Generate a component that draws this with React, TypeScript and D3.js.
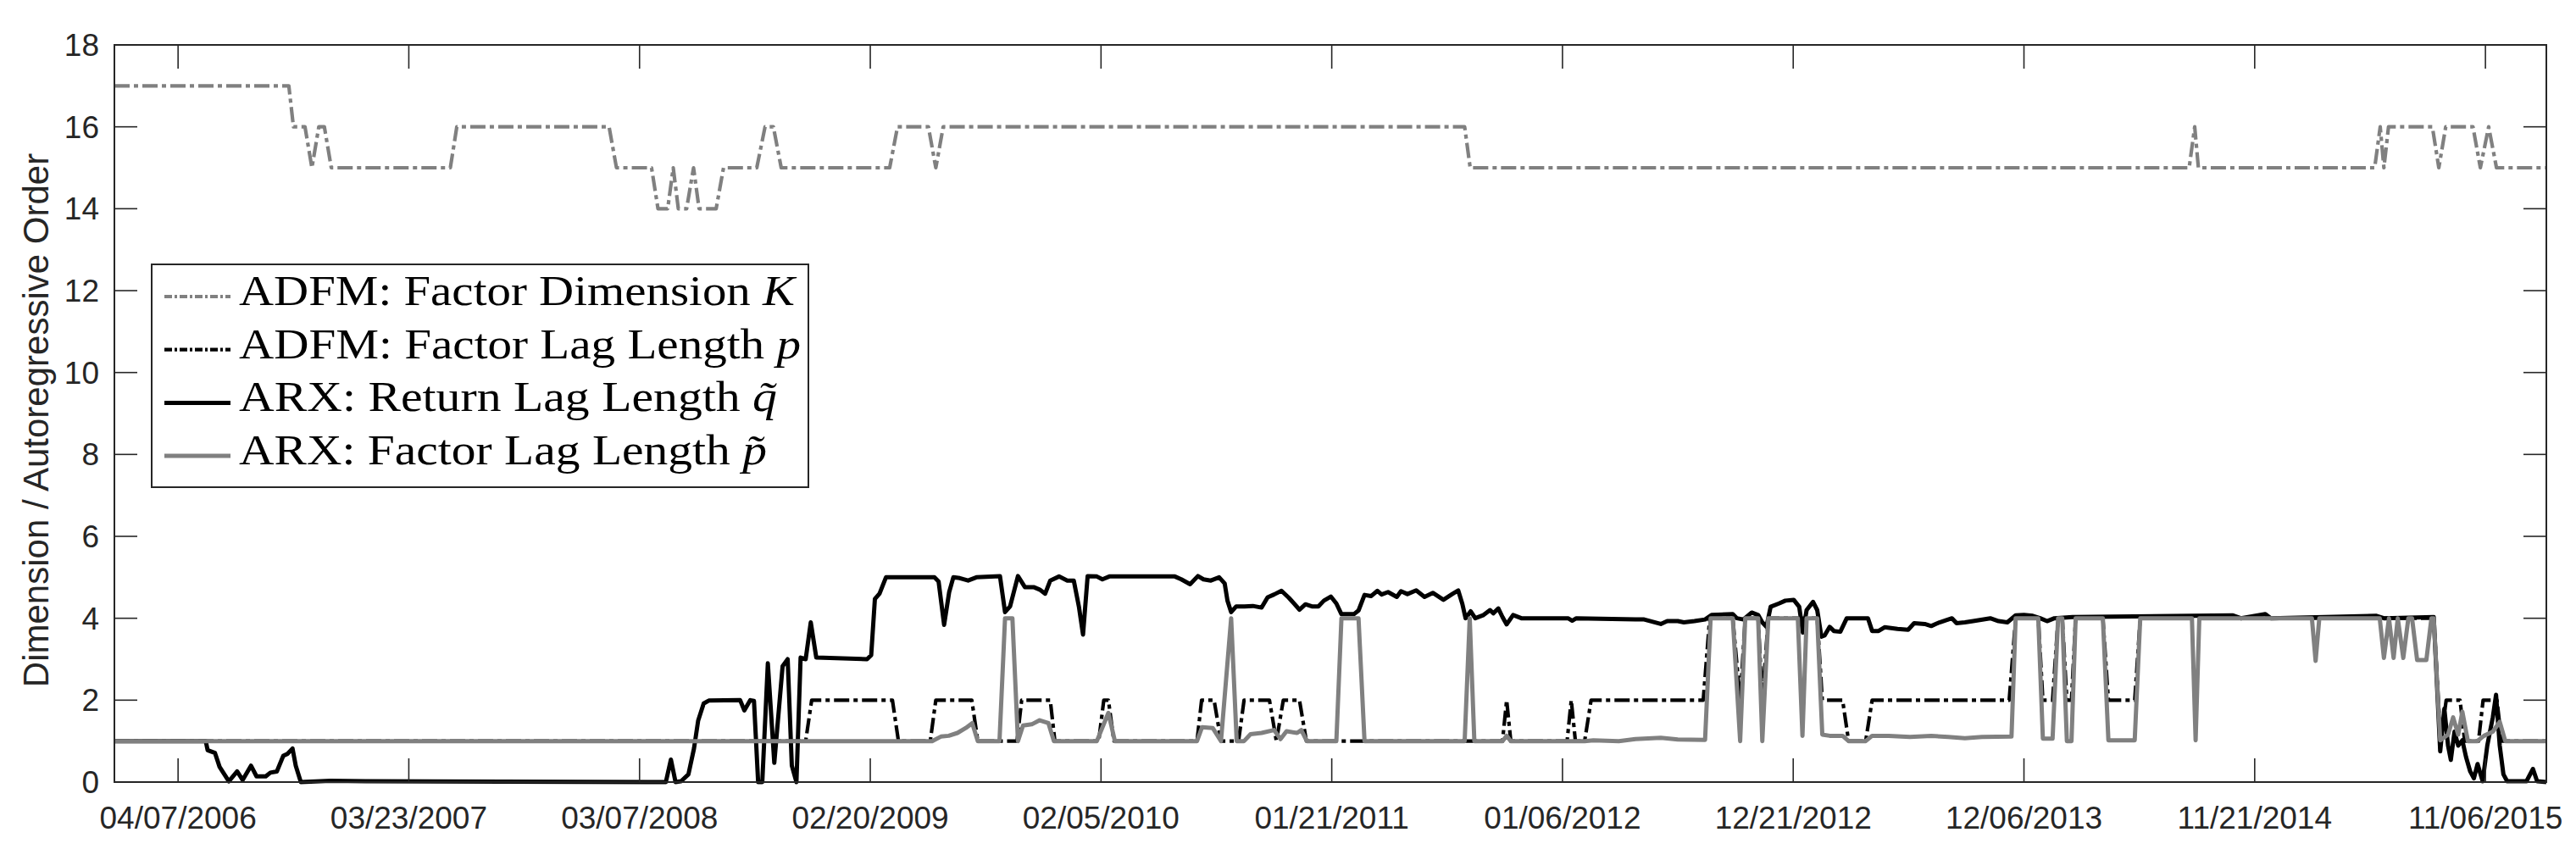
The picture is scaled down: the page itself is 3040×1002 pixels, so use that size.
import { useMemo } from 'react';
import * as d3 from 'd3';

// weeks counted from 04/07/2006 (week 0); x axis ticks every 50 weeks
const xTickWeeks = [0, 50, 100, 150, 200, 250, 300, 350, 400, 450, 500];
const xTickLabels = [
  '04/07/2006', '03/23/2007', '03/07/2008', '02/20/2009', '02/05/2010', '01/21/2011',
  '01/06/2012', '12/21/2012', '12/06/2013', '11/21/2014', '11/06/2015',
];
const yTicks = [0, 2, 4, 6, 8, 10, 12, 14, 16, 18];
const weekRange: [number, number] = [-13.8, 513.2];

// ADFM: factor dimension K  [week, value]
const factorDimK: [number, number][] = [
  [-13.8, 17], [24, 17], [25, 16], [27.5, 16], [29, 15], [30.5, 16], [31.7, 16], [33.2, 15],
  [59, 15], [60.4, 16], [93.4, 16], [95, 15], [102.6, 15], [104, 14], [106.1, 14], [107.3, 15],
  [108.4, 14], [110.2, 14], [111.7, 15], [112.9, 14], [116.6, 14], [118.2, 15], [125.4, 15],
  [127.2, 16], [129, 16], [130.7, 15], [154.2, 15], [155.9, 16], [162.6, 16], [164.2, 15],
  [165.8, 16], [278.8, 16], [280, 15], [435.8, 15], [437, 16], [437.8, 15], [476, 15],
  [477.2, 16], [478, 15], [479, 16], [488.5, 16], [489.9, 15], [491.4, 16], [497.3, 16],
  [498.9, 15], [500.7, 16], [502.4, 15], [513.2, 15],
];

// ADFM: factor lag length p
const factorLagP: [number, number][] = [
  [-13.8, 1], [136, 1], [137.3, 2], [154.8, 2], [156.1, 1], [163, 1], [164.2, 2], [172, 2],
  [173.3, 1], [181.8, 1], [182.8, 2], [189, 2], [190, 1], [199.5, 1], [200.6, 2], [201.6, 2],
  [202.8, 1], [220.8, 1], [221.8, 2], [224.5, 2], [226, 1], [229.8, 1], [231, 2], [236.5, 2],
  [238, 1], [239.5, 2], [243, 2], [244.5, 1], [287, 1], [287.9, 2], [288.8, 1], [301, 1],
  [301.9, 2], [302.8, 1], [304.8, 1], [306.2, 2], [330.5, 2], [331.9, 4], [336.9, 4],
  [338.5, 2], [339.6, 4], [342.4, 4], [343.3, 2], [344.6, 4], [355.2, 4], [356.3, 2],
  [360.7, 2], [362, 1], [365.7, 1], [367.1, 2], [396.8, 2], [398.2, 4], [403.1, 4], [404.1, 2],
  [406.2, 2], [407.4, 4], [408.3, 4], [409.3, 2], [410.3, 2], [411.2, 4], [417.1, 4],
  [418.3, 2], [424, 2], [425.2, 4], [488.8, 4], [490.3, 1], [491.5, 2], [494.5, 2], [495.5, 1],
  [498.5, 1], [499.5, 2], [502.5, 2], [503.5, 1], [513.2, 1],
];

// ARX: return lag length q~
const returnLagQ: [number, number][] = [
  [-13.8, 1], [6, 1], [6.4, 0.78], [8, 0.71], [9, 0.37], [11, 0.02], [12.8, 0.26], [14, 0.05],
  [15.8, 0.4], [17, 0.14], [19, 0.14], [20, 0.23], [21.4, 0.26], [22.8, 0.64], [23.7, 0.69],
  [24.8, 0.82], [25.5, 0.4], [26.6, 0], [33, 0.03], [40.6, 0.02], [105.7, 0], [106.8, 0.55],
  [107.8, 0], [109, 0.02], [110.6, 0.19], [111.8, 0.82], [112.7, 1.5], [113.9, 1.92],
  [115, 1.99], [121.8, 2], [122.7, 1.75], [124, 2], [124.8, 1.98], [125.7, 0], [126.6, 0],
  [127.8, 2.9], [129.2, 0.47], [131, 2.83], [132.1, 3.0], [133, 0.4], [134, 0], [134.9, 3.04],
  [136, 3.0], [137.1, 3.9], [138.3, 3.04], [149.3, 3.0], [150.2, 3.1], [151, 4.47], [152, 4.6],
  [153.4, 5.0], [163.9, 5.0], [164.8, 4.9], [166, 3.84], [167.1, 4.64], [168, 5.0],
  [169.4, 4.98], [171.2, 4.92], [173, 5.0], [178.1, 5.03], [179.2, 4.15], [180.3, 4.29],
  [182, 5.03], [183.5, 4.76], [185.4, 4.76], [186.7, 4.7], [187.9, 4.6], [189, 4.92],
  [190.9, 5.02], [192.7, 4.92], [194.1, 4.92], [195.2, 4.29], [196.1, 3.6], [197.1, 5.03],
  [199.1, 5.02], [200.3, 4.95], [201.8, 5.02], [216, 5.02], [217.4, 4.95], [219.3, 4.83],
  [221, 5.03], [222.2, 4.95], [223.8, 4.92], [225.6, 5.0], [226.8, 4.85], [227.4, 4.43],
  [228.2, 4.15], [229.3, 4.29], [231.1, 4.29], [232.9, 4.3], [234.8, 4.26], [236.1, 4.51],
  [237.5, 4.58], [239.1, 4.67], [240.7, 4.5], [243, 4.21], [244.3, 4.34], [245.7, 4.29],
  [247.1, 4.29], [248.3, 4.43], [249.8, 4.53], [251, 4.36], [252.1, 4.1], [254.8, 4.1],
  [255.8, 4.19], [257.1, 4.57], [258.5, 4.54], [259.9, 4.67], [260.8, 4.58], [262.2, 4.64],
  [264.1, 4.52], [265, 4.66], [266.4, 4.59], [268.3, 4.68], [270.1, 4.52], [271.9, 4.62],
  [274.2, 4.45], [276.1, 4.59], [277.4, 4.68], [278.3, 4.35], [279, 4.0], [280.1, 4.17],
  [281.1, 4.0], [282.9, 4.08], [284.3, 4.2], [285, 4.12], [286.1, 4.24], [287, 4.03],
  [287.9, 3.85], [289.3, 4.08], [291.1, 4.0], [301.2, 4.0], [302.1, 3.94], [303, 4.0],
  [315.8, 3.97], [317.7, 3.97], [321.3, 3.86], [322.7, 3.93], [325, 3.93], [326.3, 3.9],
  [328.6, 3.93], [330.9, 3.97], [332.3, 4.08], [336.9, 4.1], [337.8, 4.0], [339.2, 3.97],
  [341, 4.14], [342.4, 4.08], [343.3, 3.9], [344.2, 3.79], [345.1, 4.28], [346.9, 4.36],
  [348.3, 4.43], [350.1, 4.45], [351.3, 4.28], [352.1, 3.65], [352.9, 4.2], [354.3, 4.4],
  [355.2, 4.2], [356.1, 3.55], [356.8, 3.58], [357.9, 3.79], [358.8, 3.69], [360.2, 3.67],
  [361.6, 4.0], [366.2, 4.0], [367.1, 3.69], [368.5, 3.69], [369.8, 3.78], [372.6, 3.74],
  [374.9, 3.72], [376.2, 3.88], [378.5, 3.86], [379.9, 3.81], [381.7, 3.9], [384.4, 4.0],
  [385.4, 3.88], [387.2, 3.9], [389, 3.93], [392.7, 4.0], [394.5, 3.93], [396.4, 3.9],
  [398.2, 4.07], [400, 4.08], [401.9, 4.06], [403.5, 4.0], [405, 3.93], [406.6, 4.0],
  [410.5, 4.03], [445.3, 4.07], [447, 4.0], [452.3, 4.1], [453.5, 4.0], [476.4, 4.06],
  [478, 4.0], [488.8, 4.03], [490.2, 0.75], [491.1, 1.79], [491.9, 0.89], [492.5, 0.54],
  [493.3, 1.23], [494.1, 0.89], [495, 1.02], [495.8, 0.61], [496.7, 0.26], [497.5, 0.09],
  [498.3, 0.44], [499.4, 0.02], [500.4, 0.89], [501.6, 1.58], [502.3, 2.13], [503.1, 0.89],
  [503.9, 0.19], [504.7, 0.02], [508.9, 0.02], [510.3, 0.32], [511.2, 0.02], [513.2, 0],
];

// ARX: factor lag length p~
const factorLagPTilde: [number, number][] = [
  [-13.8, 1], [148.4, 1], [163.4, 1], [165.3, 1.11], [167, 1.13], [168.9, 1.2], [170.7, 1.32],
  [172.1, 1.44], [173.3, 1], [178, 1], [179.2, 4], [180.8, 4], [182, 1], [183.1, 1.38],
  [185, 1.41], [186.7, 1.51], [188.6, 1.44], [189.8, 1], [199.1, 1], [201.6, 1.69], [203, 1],
  [220.8, 1], [221.9, 1.34], [224.2, 1.32], [226, 1], [228.2, 4], [229.4, 1], [231, 1],
  [232.4, 1.17], [234.8, 1.2], [237.5, 1.27], [238.9, 1.05], [240.2, 1.24], [242.5, 1.2],
  [243.4, 1.27], [244.6, 1], [251, 1], [252.1, 4], [255.8, 4], [257.1, 1], [278.8, 1],
  [279.9, 4], [280.9, 1], [287, 1], [287.9, 1.13], [288.8, 1], [304.8, 1], [306.7, 1.02],
  [312.2, 1.0], [315.8, 1.05], [321.3, 1.08], [325, 1.04], [330.9, 1.03], [332.1, 4],
  [336.9, 4], [338.5, 1], [339.6, 4], [342.4, 4], [343.3, 1], [344.6, 4], [351, 4], [352, 1.13],
  [352.9, 4], [355.2, 4], [356.3, 1.16], [357.9, 1.13], [360.7, 1.13], [362, 1], [365.7, 1],
  [367.1, 1.13], [370.7, 1.13], [375.3, 1.1], [379.9, 1.13], [383.6, 1.1], [387.2, 1.07],
  [390.9, 1.1], [397.3, 1.11], [398.2, 4], [403.1, 4], [404.1, 1.06], [406.2, 1.06],
  [407.4, 4], [408.3, 4], [409.3, 1], [410.3, 1], [411.2, 4], [417.1, 4], [418.3, 1.02],
  [424, 1.02], [425.2, 4], [436.4, 4], [437.2, 1.02], [438, 4], [462.4, 4], [463.2, 2.96],
  [464, 4], [477.1, 4], [478, 3.03], [479.1, 4], [480.1, 3.03], [481, 4], [482.2, 3.03],
  [483.3, 4], [484.1, 4], [485.2, 2.98], [487.2, 2.98], [488.3, 4], [488.8, 4], [490.2, 1.02],
  [491.9, 1.16], [493, 1.58], [494.1, 1.16], [495, 1.72], [496.2, 1], [498.2, 1],
  [499.7, 1.13], [501.6, 1.23], [503.1, 1.47], [504.3, 1], [513.2, 1],
];

const GRAY = '#808080';
const AXIS = '#262626';
const DASHDOT = '18,5,5,5';

const W = 3040;
const H = 1002;
const M = { left: 135, right: 3005, top: 53, bottom: 923 };

export default function App() {
  const x = useMemo(() => d3.scaleLinear().domain(weekRange).range([M.left, M.right]), []);
  const y = useMemo(() => d3.scaleLinear().domain([0, 18]).range([M.bottom, M.top]), []);
  const line = d3
    .line<[number, number]>()
    .x((d) => x(d[0]))
    .y((d) => y(d[1]));

  const series = [
    { key: 'K', data: factorDimK, color: GRAY, width: 4.2, dash: DASHDOT, label: 'ADFM: Factor Dimension ', math: 'K', textLen: 656 },
    { key: 'p', data: factorLagP, color: '#000', width: 4.2, dash: DASHDOT, label: 'ADFM: Factor Lag Length ', math: 'p', textLen: 663 },
    { key: 'q', data: returnLagQ, color: '#000', width: 5, dash: undefined, label: 'ARX: Return Lag Length ', math: 'q\u0303', textLen: 635 },
    { key: 'pt', data: factorLagPTilde, color: GRAY, width: 5, dash: undefined, label: 'ARX: Factor Lag Length ', math: 'p\u0303', textLen: 623 },
  ];

  const legend = { x0: 179, y0: 312, x1: 954, y1: 575, rowTop: 350, rowStep: 62.7 };

  return (
    <div style={{ position: 'absolute', left: 0, top: 0, width: W, height: H, overflow: 'hidden', background: '#fff' }}>
      <svg width={W} height={H} viewBox={`0 0 ${W} ${H}`} style={{ display: 'block' }}>
        <rect width={W} height={H} fill="#fff" />
        <defs>
          <clipPath id="plot">
            <rect x={M.left} y={M.top - 4} width={M.right - M.left} height={M.bottom - M.top + 8} />
          </clipPath>
        </defs>

        <g clipPath="url(#plot)">
          {series.map((s) => (
            <path
              key={s.key}
              d={line(s.data) ?? undefined}
              fill="none"
              stroke={s.color}
              strokeWidth={s.width}
              strokeDasharray={s.dash}
              strokeLinejoin="round"
            />
          ))}
        </g>

        {/* box */}
        <rect
          x={M.left}
          y={M.top}
          width={M.right - M.left}
          height={M.bottom - M.top}
          fill="none"
          stroke={AXIS}
          strokeWidth={2}
        />

        {/* x ticks, bottom and top, inward */}
        {xTickWeeks.map((w, i) => (
          <g key={w}>
            <line x1={x(w)} x2={x(w)} y1={M.bottom} y2={M.bottom - 28} stroke={AXIS} strokeWidth={1.6} />
            <line x1={x(w)} x2={x(w)} y1={M.top} y2={M.top + 28} stroke={AXIS} strokeWidth={1.6} />
            <text
              x={x(w)}
              y={978}
              textAnchor="middle"
              fontFamily="'Liberation Sans', Arial, sans-serif"
              fontSize={37}
              fill={AXIS}
            >
              {xTickLabels[i]}
            </text>
          </g>
        ))}

        {/* y ticks, left and right, inward */}
        {yTicks.map((t) => (
          <g key={t}>
            <line x1={M.left} x2={M.left + 27} y1={y(t)} y2={y(t)} stroke={AXIS} strokeWidth={1.6} />
            <line x1={M.right} x2={M.right - 27} y1={y(t)} y2={y(t)} stroke={AXIS} strokeWidth={1.6} />
            <text
              x={117}
              y={y(t) + 13}
              textAnchor="end"
              fontFamily="'Liberation Sans', Arial, sans-serif"
              fontSize={37}
              fill={AXIS}
            >
              {t}
            </text>
          </g>
        ))}

        <text
          transform={`translate(57,496) rotate(-90)`}
          textAnchor="middle"
          fontFamily="'Liberation Sans', Arial, sans-serif"
          fontSize={42}
          fill={AXIS}
        >
          Dimension / Autoregressive Order
        </text>

        {/* legend */}
        <rect
          x={legend.x0}
          y={legend.y0}
          width={legend.x1 - legend.x0}
          height={legend.y1 - legend.y0}
          fill="#fff"
          stroke={AXIS}
          strokeWidth={2}
        />
        {series.map((s, i) => {
          const cy = legend.rowTop + i * legend.rowStep;
          return (
            <g key={s.key}>
              <line
                x1={194}
                x2={272}
                y1={cy}
                y2={cy}
                stroke={s.color}
                strokeWidth={s.width}
                strokeDasharray={s.dash ? '9,3,3,3' : undefined}
              />
              <text
                x={282}
                y={cy + 10}
                fontFamily="'Liberation Serif', 'Times New Roman', serif"
                fontSize={50}
                fill="#000"
                textLength={s.textLen}
                lengthAdjust="spacingAndGlyphs"
              >
                {s.label}
                <tspan fontStyle="italic">{s.math}</tspan>
              </text>
            </g>
          );
        })}
      </svg>
    </div>
  );
}
